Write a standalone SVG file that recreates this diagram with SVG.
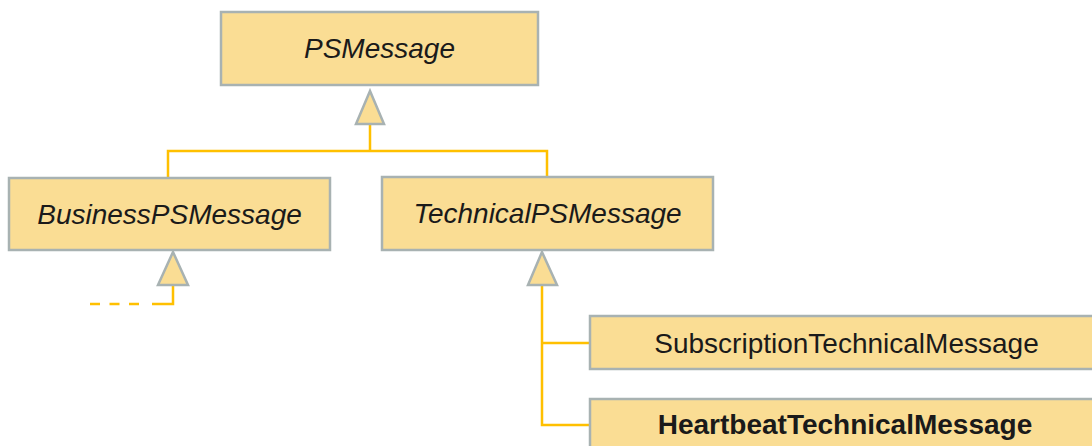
<svg xmlns="http://www.w3.org/2000/svg" width="1092" height="446" viewBox="0 0 1092 446">
  <style>
    .box { fill: #FADD94; stroke: #A8B2B2; stroke-width: 2.5; }
    .head { fill: #FADD94; stroke: #A8B2B2; stroke-width: 2.5; stroke-linejoin: miter; }
    .wire { fill: none; stroke: #FFC000; stroke-width: 2.5; }
    .dash { stroke-dasharray: 10 9.5; }
    .lbl { font-family: "Liberation Sans", Arial, sans-serif; font-size: 28px; fill: #1a1a1a; text-anchor: middle; }
    .abs { font-style: italic; }
    .strong { font-weight: bold; }
  </style>
  <rect width="1092" height="446" fill="#FFFFFF"/>

  <!-- generalization connectors -->
  <g id="connectors">
    <path class="wire" d="M370,124 V151 M168,178 V151 H547 V177"/>
    <path class="wire" d="M542,286 V425 H590 M542,343 H590"/>
    <path class="wire" d="M173,286 V304 H152"/>
    <path class="wire dash" d="M90,304 H139"/>
    <polygon class="head" points="370,91 356,124 384,124"/>
    <polygon class="head" points="173,252 158,285 188,285"/>
    <polygon class="head" points="542,252 528,285 557,285"/>
  </g>

  <g id="PSMessage">
    <rect class="box" x="221" y="12" width="317" height="73"/>
    <text class="lbl abs" x="379.5" y="58">PSMessage</text>
  </g>

  <g id="BusinessPSMessage">
    <rect class="box" x="9" y="178" width="321" height="72"/>
    <text class="lbl abs" x="169.5" y="224">BusinessPSMessage</text>
  </g>

  <g id="TechnicalPSMessage">
    <rect class="box" x="382" y="177" width="331" height="73"/>
    <text class="lbl abs" x="547.5" y="223">TechnicalPSMessage</text>
  </g>

  <g id="SubscriptionTechnicalMessage">
    <rect class="box" x="590" y="316" width="514" height="53"/>
    <text class="lbl" x="846.5" y="353">SubscriptionTechnicalMessage</text>
  </g>

  <g id="HeartbeatTechnicalMessage">
    <rect class="box" x="590" y="399" width="514" height="53"/>
    <text class="lbl strong" x="845" y="434">HeartbeatTechnicalMessage</text>
  </g>
</svg>
